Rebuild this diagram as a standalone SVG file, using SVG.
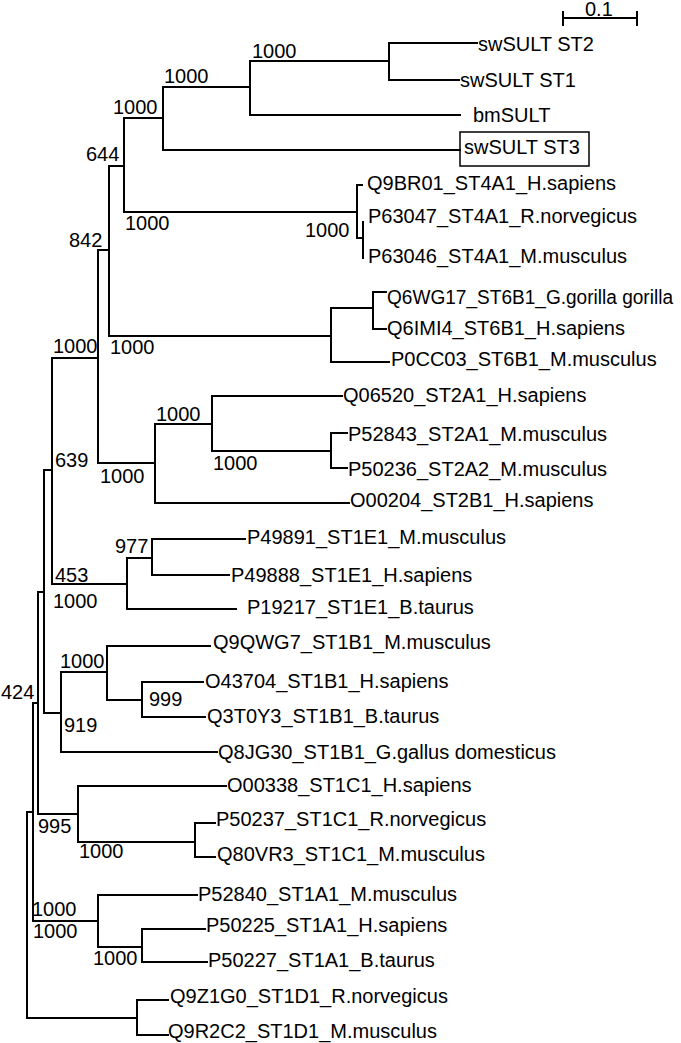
<svg xmlns="http://www.w3.org/2000/svg" width="681" height="1043" viewBox="0 0 681 1043">
<style>
.br{stroke:#000;stroke-width:2;fill:none;stroke-linecap:square}
text{font-family:"Liberation Sans",Arial,sans-serif;font-size:20px;fill:#000}
.box{stroke:#000;stroke-width:1.5;fill:none}
</style>
<rect width="681" height="1043" fill="#fff"/>
<g id="scale">
<path class="br" d="M563 18 H637 M563 12 V25 M637 12 V25"/>
<text x="585" y="16">0.1</text>
</g>
<g id="connectors">
<path class="br" d="M477 43 H389 V80 H459"/>
<path class="br" d="M389 61 H250 V115 H460"/>
<path class="br" d="M250 87 H163 V150 H460"/>
<path class="br" d="M163 118 H124 V212 H357"/>
<path class="br" d="M362 185 H357 V238 H363"/>
<path class="br" d="M363 222 V258"/>
<path class="br" d="M124 166 H109 V336 H331"/>
<path class="br" d="M373 308 H331 V362 H389"/>
<path class="br" d="M386 292 H373 V329 H386"/>
<path class="br" d="M109 250 H98 V463 H155"/>
<path class="br" d="M212 424 H155 V503 H349"/>
<path class="br" d="M342 396 H212 V451 H331"/>
<path class="br" d="M347 433 H331 V468 H347"/>
<path class="br" d="M98 358 H52 V584 H127"/>
<path class="br" d="M152 558 H127 V609 H236"/>
<path class="br" d="M245 539 H152 V575 H229"/>
<path class="br" d="M52 470 H44 V713 H61"/>
<path class="br" d="M107 672 H61 V752 H217"/>
<path class="br" d="M210 646 H107 V700 H142"/>
<path class="br" d="M203 682 H142 V717 H205"/>
<path class="br" d="M44 592 H38 V814 H78"/>
<path class="br" d="M226 786 H78 V842 H195"/>
<path class="br" d="M215 823 H195 V857 H215"/>
<path class="br" d="M38 703 H33 V921 H98"/>
<path class="br" d="M197 895 H98 V947 H142"/>
<path class="br" d="M205 929 H142 V962 H207"/>
<path class="br" d="M33 812 H27 V1018 H137"/>
<path class="br" d="M168 1000 H137 V1035 H168"/>
</g>
<g id="leaves">
<g id="swSULT_ST2"><text x="478" y="51">swSULT ST2</text></g>
<g id="swSULT_ST1"><text x="460" y="87">swSULT ST1</text></g>
<g id="bmSULT"><text x="473" y="122">bmSULT</text></g>
<g id="swSULT_ST3"><rect class="box" x="460" y="132" width="129" height="34"/><text x="464" y="154">swSULT ST3</text></g>
<g id="Q9BR01"><text x="367" y="190">Q9BR01_ST4A1_H.sapiens</text></g>
<g id="P63047"><text x="368" y="223">P63047_ST4A1_R.norvegicus</text></g>
<g id="P63046"><text x="368" y="263">P63046_ST4A1_M.musculus</text></g>
<g id="Q6WG17"><text x="387" y="304" style="font-size:19.5px" textLength="286" lengthAdjust="spacingAndGlyphs">Q6WG17_ST6B1_G.gorilla gorilla</text></g>
<g id="Q6IMI4"><text x="387" y="335">Q6IMI4_ST6B1_H.sapiens</text></g>
<g id="P0CC03"><text x="391" y="366">P0CC03_ST6B1_M.musculus</text></g>
<g id="Q06520"><text x="343" y="402">Q06520_ST2A1_H.sapiens</text></g>
<g id="P52843"><text x="348" y="441">P52843_ST2A1_M.musculus</text></g>
<g id="P50236"><text x="348" y="476">P50236_ST2A2_M.musculus</text></g>
<g id="O00204"><text x="350" y="507">O00204_ST2B1_H.sapiens</text></g>
<g id="P49891"><text x="247" y="544">P49891_ST1E1_M.musculus</text></g>
<g id="P49888"><text x="231" y="582">P49888_ST1E1_H.sapiens</text></g>
<g id="P19217"><text x="247" y="614">P19217_ST1E1_B.taurus</text></g>
<g id="Q9QWG7"><text x="213" y="649">Q9QWG7_ST1B1_M.musculus</text></g>
<g id="O43704"><text x="205" y="688">O43704_ST1B1_H.sapiens</text></g>
<g id="Q3T0Y3"><text x="207" y="723">Q3T0Y3_ST1B1_B.taurus</text></g>
<g id="Q8JG30"><text x="218" y="759">Q8JG30_ST1B1_G.gallus domesticus</text></g>
<g id="O00338"><text x="227" y="792">O00338_ST1C1_H.sapiens</text></g>
<g id="P50237"><text x="216" y="826">P50237_ST1C1_R.norvegicus</text></g>
<g id="Q80VR3"><text x="217" y="861">Q80VR3_ST1C1_M.musculus</text></g>
<g id="P52840"><text x="198" y="901">P52840_ST1A1_M.musculus</text></g>
<g id="P50225"><text x="206" y="932">P50225_ST1A1_H.sapiens</text></g>
<g id="P50227"><text x="208" y="967">P50227_ST1A1_B.taurus</text></g>
<g id="Q9Z1G0"><text x="170" y="1003">Q9Z1G0_ST1D1_R.norvegicus</text></g>
<g id="Q9R2C2"><text x="168" y="1038">Q9R2C2_ST1D1_M.musculus</text></g>
</g>
<g id="support">
<text x="252" y="58">1000</text>
<text x="164" y="83">1000</text>
<text x="113" y="114">1000</text>
<text x="86" y="161">644</text>
<text x="125" y="230">1000</text>
<text x="305" y="237">1000</text>
<text x="69" y="247">842</text>
<text x="53" y="353">1000</text>
<text x="110" y="354">1000</text>
<text x="156" y="421">1000</text>
<text x="213" y="470">1000</text>
<text x="55" y="467">639</text>
<text x="100" y="483">1000</text>
<text x="115" y="553">977</text>
<text x="55" y="582">453</text>
<text x="53" y="608">1000</text>
<text x="60" y="668">1000</text>
<text x="149" y="706">999</text>
<text x="64" y="732">919</text>
<text x="1" y="699">424</text>
<text x="38" y="833">995</text>
<text x="79" y="858">1000</text>
<text x="32" y="916">1000</text>
<text x="33" y="938">1000</text>
<text x="93" y="965">1000</text>
</g>
</svg>
